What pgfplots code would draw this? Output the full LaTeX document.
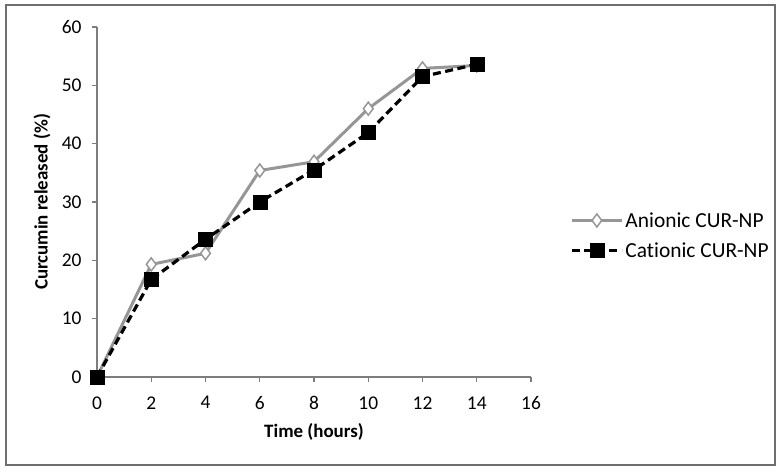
\documentclass[border=0pt]{standalone}
\usepackage{pgfplots}
\pgfplotsset{compat=1.18}
\usepackage{fontspec}
\setmainfont{Carlito}[Ligatures=NoCommon]
\definecolor{anion}{RGB}{150,150,150}
\definecolor{axgray}{RGB}{125,125,125}
\definecolor{framegray}{RGB}{110,110,110}
\begin{document}
\begin{tikzpicture}[x=1bp,y=1bp]
\path[use as bounding box] (0,0) rectangle (781,473);
\draw[line width=1.8bp, framegray] (6,8) rectangle (775,468);
\begin{axis}[
  at={(97bp,96bp)}, anchor=south west,
  scale only axis, width=434bp, height=350bp,
  xmin=0, xmax=16, ymin=0, ymax=60,
  xtick={0,2,...,16}, ytick={0,10,...,60},
  axis x line*=bottom, axis y line*=left,
  axis line style={axgray, line width=1.2bp},
  tick style={axgray, line width=1.2bp},
  tick align=outside, major tick length=5bp,
  tick label style={font=\fontsize{19.5}{22}\selectfont, text=black},
  /pgf/number format/assume math mode=true,
  xticklabel style={yshift=-11bp},
  yticklabel style={xshift=-7bp},
  xlabel={\textbf{Time (hours)}},
  ylabel={\textbf{Curcumin released (\%)}},
  label style={font=\fontsize{19}{21}\selectfont},
  xlabel style={at={(rel axis cs:0.5,0)}, anchor=center, yshift=-55bp},
  ylabel style={at={(rel axis cs:0,0.5)}, anchor=center, yshift=55bp},
  clip=false,
  legend style={at={(rel axis cs:1.09,0.404)}, anchor=west, draw=none, fill=none,
    font=\fontsize{21.5}{23}\selectfont, row sep=10bp, inner sep=0pt},
  legend cell align=left,
  legend image code/.code={\draw[mark repeat=2,mark phase=2,#1] plot coordinates {(0bp,0bp)(25bp,0bp)(50bp,0bp)};},
]
\addplot[anion, line width=3bp, mark=diamond*, mark size=6.5bp,
  mark options={solid, fill=white, draw=anion, line width=1.5bp}]
  coordinates {(0,0) (2,19.3) (4,21.2) (6,35.4) (8,36.9) (10,46.0) (12,52.9) (14,53.4)};
\addlegendentry{Anionic CUR-NP}
\addplot[black, line width=3.2bp, dash pattern=on 8bp off 4.5bp, mark=square*, mark size=7bp,
  mark options={solid, fill=black, line width=0.5bp}]
  coordinates {(0,0) (2,16.7) (4,23.6) (6,30.0) (8,35.5) (10,41.9) (12,51.5) (14,53.6)};
\addlegendentry{Cationic CUR-NP}
\end{axis}
\end{tikzpicture}
\end{document}
